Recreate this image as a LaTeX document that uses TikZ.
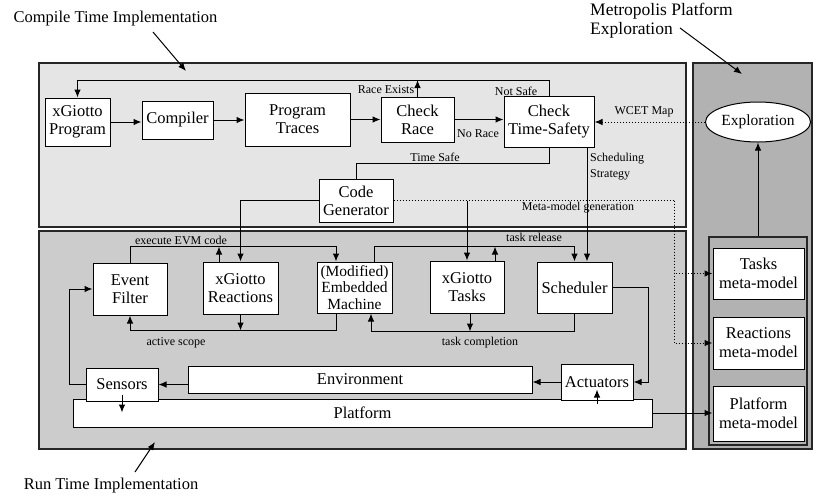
\documentclass[tikz,border=0pt]{standalone}
\usepackage{fontspec}
\setmainfont{Liberation Serif}
\usetikzlibrary{arrows.meta,shapes.geometric}
\definecolor{cpfill}{gray}{0.90}
\definecolor{rpfill}{gray}{0.80}
\definecolor{mpfill}{gray}{0.70}
\begin{document}
\begin{tikzpicture}[x=1pt,y=-1pt,
  box/.style={draw=black, fill=white, line width=1pt, inner sep=0pt, align=center, font=\fontsize{16.5}{18}\selectfont},
  arr/.style={-{Latex[length=8pt,width=6.5pt]}, line width=1pt},
  ln/.style={line width=1pt},
  dotln/.style={line width=1pt, dotted},
  lbl/.style={inner sep=0pt, font=\fontsize{12}{14}\selectfont},
  panel/.style={draw=black!85, line width=1.2pt, inner sep=0pt},
  ttl/.style={inner sep=0pt, font=\fontsize{16.5}{19}\selectfont}]
\useasboundingbox (0,0) rectangle (813,499);

% panels
\node[panel, fill=cpfill, minimum width=647pt, minimum height=164pt] (cpanel) at (362.5,145) {};
\node[panel, fill=rpfill, minimum width=647pt, minimum height=218pt] (rpanel) at (362.5,340) {};
\node[panel, fill=mpfill, minimum width=119pt, minimum height=386pt] (mpanel) at (752.5,256) {};
\node[panel, fill=mpfill, minimum width=98pt, minimum height=208pt] (frame) at (758,341) {};

% titles
\node[ttl] (t1) at (115.5,19) {Compile Time Implementation};
\node[ttl, align=left, anchor=west, font=\fontsize{17.5}{19}\selectfont] (t2) at (590,21) {Metropolis Platform\\Exploration};
\node[ttl] (t3) at (111,486) {Run Time Implementation};
\coordinate (t1a) at (153,32);  \coordinate (t1b) at (186,71);
\coordinate (t2a) at (680,28);  \coordinate (t2b) at (742,74);
\coordinate (t3a) at (135,472); \coordinate (t3b) at (155,442);
\draw[arr] (t1a) -- (t1b);
\draw[arr] (t2a) -- (t2b);
\draw[arr] (t3a) -- (t3b);

% compile-time nodes
\node[box, minimum width=65pt, minimum height=48pt] (prog) at (77.5,122) {xGiotto\\Program};
\node[box, minimum width=71pt, minimum height=38pt] (comp) at (177.5,120) {Compiler};
\node[box, minimum width=105pt, minimum height=53pt] (traces) at (297.5,119.5) {Program\\Traces};
\node[box, minimum width=73pt, minimum height=45pt] (race) at (417.5,119.5) {Check\\Race};
\node[box, minimum width=90pt, minimum height=51pt] (tsafe) at (549,121.5) {Check\\Time-Safety};
\node[box, minimum width=74pt, minimum height=43pt] (codegen) at (356,200.5) {Code\\Generator};
\node[box, ellipse, minimum width=105pt, minimum height=40pt, font=\fontsize{15.5}{18}\selectfont] (explore) at (758,122) {Exploration};

% run-time nodes
\node[box, minimum width=74pt, minimum height=52pt] (filter) at (130,289) {Event\\Filter};
\node[box, minimum width=75pt, minimum height=52pt] (react) at (240.5,288) {xGiotto\\Reactions};
\node[box, minimum width=75pt, minimum height=51pt, font=\fontsize{15.5}{16.5}\selectfont] (evm) at (354.5,287.5) {(Modified)\\Embedded\\Machine};
\node[box, minimum width=74pt, minimum height=52pt] (tasks) at (467,287) {xGiotto\\Tasks};
\node[box, minimum width=75pt, minimum height=51pt] (sched) at (574.5,287.5) {Scheduler};
\node[box, minimum width=579pt, minimum height=28pt] (platform) at (362.5,413) {Platform};
\node[box, minimum width=344pt, minimum height=27pt] (env) at (360,379.5) {Environment};
\node[box, minimum width=72pt, minimum height=33pt] (sensors) at (122,384.5) {Sensors};
\node[box, minimum width=72pt, minimum height=36pt] (act) at (597,382) {Actuators};

% meta-models
\node[box, minimum width=91pt, minimum height=51pt, font=\fontsize{16.5}{19}\selectfont] (tmm) at (758.5,273.5) {Tasks\\meta-model};
\node[box, minimum width=91pt, minimum height=52pt, font=\fontsize{16.5}{19}\selectfont] (rmm) at (758.5,343) {Reactions\\meta-model};
\node[box, minimum width=91pt, minimum height=55pt, font=\fontsize{16.5}{19}\selectfont] (pmm) at (758.5,413.5) {Platform\\meta-model};

% compile-time connectors
\draw[arr] (prog.east) -- (prog.east -| comp.west);
\draw[arr] (comp.east) -- (comp.east -| traces.west);
\draw[arr] (traces.east) -- (traces.east -| race.west);
\draw[arr] (race.east) -- (race.east -| tsafe.west);
\coordinate (fb) at (549,80);
\draw[arr] (tsafe.north) -- (fb) -| (prog.north);
\draw[arr] (race.north) -- (race.north |- fb);
\draw[ln] (tsafe.south) -- ++(0,16) -| (codegen.north);
\coordinate (ss) at ([xshift=38pt]tsafe.south);
\draw[arr] (ss) -- (ss |- sched.north);
\draw[arr, dotted] (explore.west) -- (explore.west -| tsafe.east);
\draw[arr] (codegen.west) -| (react.north);
\coordinate (cg) at (tasks.north |- codegen.east);
\draw[arr] (cg) -- (tasks.north);
\coordinate (mm) at (674,200.5);
\draw[dotln] (codegen.east) -- (mm);
\draw[arr, dotted] (mm) |- (tmm.west);
\draw[arr, dotted] (mm) |- (rmm.west);
\draw[arr] (frame.north) -- (explore.south);

% run-time connectors
\draw[arr] (filter.north) -- ++(0,-16) -| ([xshift=-18.5pt]evm.north);
\draw[arr] ([xshift=-21.5pt]react.north) -- ++(0,-15);
\draw[arr] ([xshift=-18.5pt]evm.south) -- ++(0,17) -| (filter.south);
\draw[arr] (react.south) -- ++(0,16);
\draw[arr] ([xshift=19.5pt]evm.north) -- ++(0,-15) -| (sched.north);
\draw[arr] ([xshift=28pt]tasks.north) -- ++(0,-14);
\draw[arr] (sched.south) -- ++(0,18) -| ([xshift=16.5pt]evm.south);
\draw[arr] ([xshift=3pt]tasks.south) -- ++(0,18);
\draw[arr] (sched.east) -- ++(36,0) |- (act.east);
\draw[arr] (act.west) -- (act.west -| env.east);
\draw[arr] (sensors.east -| env.west) -- (sensors.east);
\draw[arr] (sensors.west) -- ++(-16,0) |- (filter.west);
\draw[arr] ([yshift=7pt]sensors.south) -- ++(0,18);
\draw[arr] ([yshift=-3pt]act.south) -- ++(0,-14);
\draw[arr] (platform.east) -- (platform.east -| pmm.west);

% labels
\node[lbl] (lre) at (386,90) {Race Exists};
\node[lbl] (lns) at (516,91) {Not Safe};
\node[lbl] (lnr) at (478,134) {No Race};
\node[lbl] (lts) at (435,157) {Time Safe};
\node[lbl] (lwm) at (644,112) {WCET Map};
\node[lbl, align=left, anchor=west, font=\fontsize{12}{16}\selectfont] (lss) at (590,167) {Scheduling\\Strategy};
\node[lbl] (lmm) at (578,207.5) {Meta-model generation};
\node[lbl] (lex) at (181,240) {execute EVM code};
\node[lbl] (las) at (176,343) {active scope};
\node[lbl] (ltr) at (534,237) {task release};
\node[lbl] (ltc) at (480,343) {task completion};
\end{tikzpicture}
\end{document}
